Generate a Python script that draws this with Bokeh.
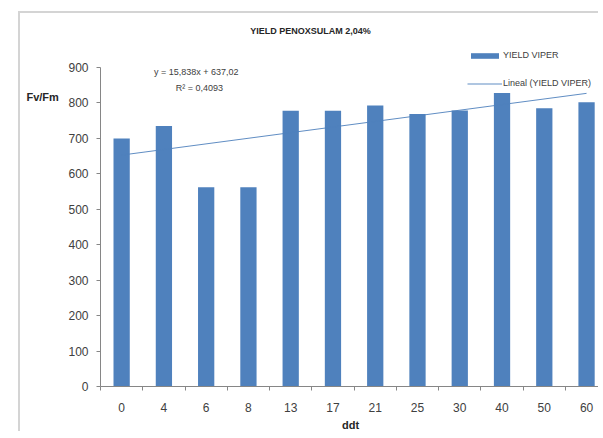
from bokeh.plotting import figure
from bokeh.models import FixedTicker, Label, Legend, LegendItem, Range1d, LinearAxis
from bokeh.embed import file_html
from bokeh.resources import INLINE

# ---- data ----
ddt_labels = ["0", "4", "6", "8", "13", "17", "21", "25", "30", "40", "50", "60"]
yield_viper = [700, 735, 562, 562, 778, 778, 793, 769, 779, 828, 785, 802]
y_ticks = [0, 100, 200, 300, 400, 500, 600, 700, 800, 900]
trend_values = [652.9, 827.1]          # linear trendline at first / last category
title_text = "YIELD PENOXSULAM 2,04%"
equation_text = "y = 15,838x  + 637,02"
r2_text = "R² = 0,4093"
y_label_text = "Fv/Fm"
x_label_text = "ddt"
series_name = "YIELD VIPER"
trend_name = "Lineal (YIELD VIPER)"

BAR = "#4F81BD"
FONT = "Liberation Sans"
TXT = "#404040"

xs = list(range(len(ddt_labels)))

p = figure(width=580, height=420, output_backend="svg", toolbar_location=None,
           tools="", y_axis_location=None, x_axis_location=None,
           x_range=Range1d(-2.393, 11.33), y_range=Range1d(-132.6, 1052.4),
           min_border_left=0, min_border_right=0, min_border_top=0,
           min_border_bottom=0)
p.styles = {"border-left": "2px solid #d4d4d4", "border-top": "2px solid #d4d4d4"}
p.margin = (11, 0, 0, 18)
p.outline_line_color = None
p.grid.visible = False
p.background_fill_color = "white"
p.border_fill_color = "white"

# y axis, fixed at the left edge of the first category band
yax = LinearAxis(fixed_location=-0.5, ticker=FixedTicker(ticks=y_ticks), bounds=(0, 900))
yax.axis_line_color = "#868686"
yax.major_tick_line_color = "#868686"
yax.major_tick_in = 0
yax.major_tick_out = 4
yax.minor_tick_line_color = None
yax.major_label_standoff = 8
yax.major_label_text_font = FONT
yax.major_label_text_font_size = "12px"
yax.major_label_text_color = TXT
p.add_layout(yax, "left")

# x axis, fixed at y = 0
xax = LinearAxis(fixed_location=0,
                 ticker=FixedTicker(ticks=xs, minor_ticks=[i - 0.5 for i in range(len(xs) + 1)]),
                 bounds=(-0.5, 11.33))
xax.major_label_overrides = {i: lab for i, lab in zip(xs, ddt_labels)}
xax.axis_line_color = "#868686"
xax.major_tick_line_color = None
xax.major_tick_in = 0
xax.major_tick_out = 0
xax.minor_tick_line_color = "#868686"
xax.minor_tick_in = 0
xax.minor_tick_out = 4
xax.major_label_standoff = 12
xax.major_label_text_font = FONT
xax.major_label_text_font_size = "12px"
xax.major_label_text_color = TXT
xax.axis_label = x_label_text
xax.axis_label_standoff = 4
xax.axis_label_text_font = FONT
xax.axis_label_text_font_size = "11px"
xax.axis_label_text_font_style = "bold"
xax.axis_label_text_color = "#262626"
p.add_layout(xax, "below")

bars = p.vbar(x=xs, top=yield_viper, width=0.385, fill_color=BAR, line_color=None)
trend = p.line(x=[xs[0], xs[-1]], y=trend_values, line_color=BAR, line_width=1, line_alpha=0.9)

legend = Legend(items=[LegendItem(label=series_name, renderers=[bars]),
                       LegendItem(label=trend_name, renderers=[trend])],
                location=(447, 343), padding=0, margin=0,
                border_line_color=None, background_fill_alpha=0,
                glyph_width=35, glyph_height=7, label_standoff=1,
                label_height=14, spacing=14,
                label_text_font=FONT, label_text_font_size="9px",
                label_text_color=TXT)
p.add_layout(legend)

p.add_layout(Label(x=4.468, y=1004.4, text=title_text, text_align="center",
                   text_baseline="middle", text_font=FONT,
                   text_font_style="bold", text_font_size="9px", text_color="#262626"))
p.add_layout(Label(x=1.795, y=886, text=equation_text, text_align="center",
                   text_baseline="middle", text_font=FONT, text_font_size="9px",
                   text_color=TXT))
p.add_layout(Label(x=1.84, y=841, text=r2_text, text_align="center",
                   text_baseline="middle", text_font=FONT, text_font_size="9px",
                   text_color=TXT))
p.add_layout(Label(x=-1.87, y=818, text=y_label_text, text_align="center",
                   text_baseline="middle", text_font=FONT, text_font_style="bold",
                   text_font_size="11px", text_color="#262626"))

open("out.html", "w").write(file_html(p, INLINE))
